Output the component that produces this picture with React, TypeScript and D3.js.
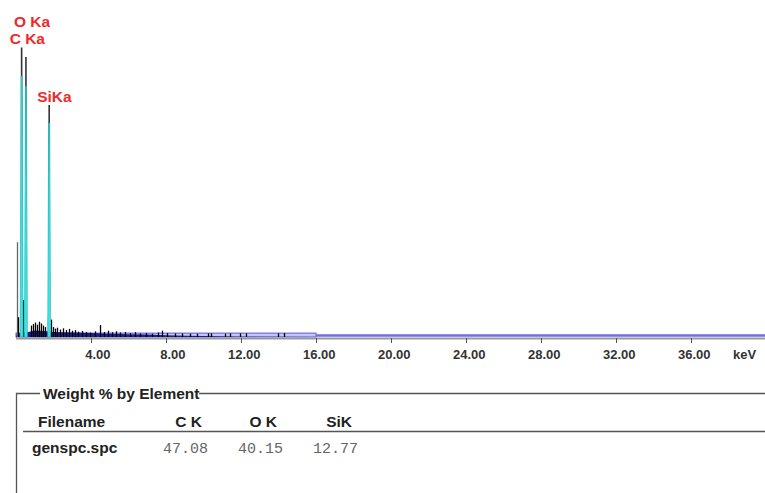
import React from 'react';
import * as d3 from 'd3';

const W = 765;
const H = 493;

// Axis
const tickValues = [4, 8, 12, 16, 20, 24, 28, 32, 36];
const axisUnit = 'keV';
const xMaxKeV = 40;
const bandEndKeV = 16;
const bandCounts = 13;

// Peaks (keV, total counts, ROI counts)
const peakLabels = ['C Ka', 'O Ka', 'SiKa'];
const peakEnergies = [0.3, 0.53, 1.77];
const peakCounts = [965, 933, 773];
const peakRoiCounts = [870, 836, 713];

// Minor spikes of the spectrum (keV, counts)
const spikeEnergies = [
  0.03, 0.11, 0.39, 0.8, 0.91, 1.01, 1.12, 1.23, 1.33, 1.44, 1.55, 1.68, 1.87,
  1.97, 2.08, 2.19, 2.35, 2.51, 2.67, 2.83, 2.99, 3.15, 3.31, 3.52, 3.73, 3.95,
  4.21, 4.48, 4.69, 4.91, 5.12, 5.33, 5.55, 5.81, 6.08, 6.35, 6.61, 6.93, 7.25,
  7.57, 7.79, 8.05, 8.48, 8.85, 9.28, 9.65, 10.24, 10.4, 11.15, 11.41, 11.95,
  12.27, 13.97, 14.29,
];
const spikeCounts = [
  316, 66, 123, 38, 43, 48, 41, 51, 45, 38, 33, 63, 58,
  33, 28, 31, 25, 29, 23, 27, 21, 23, 18, 20, 17, 15,
  19, 40, 17, 21, 16, 19, 15, 17, 13, 16, 12, 13, 11,
  15, 21, 13, 12, 12, 11, 11, 12, 12, 11, 12, 12,
  12, 12, 13,
];

// Continuum (keV, counts)
const contEnergies = [0, 0.05, 0.6, 1.0, 1.5, 2, 3, 4, 5, 6, 7, 8, 9, 10, 12, 16];
const contCounts = [0, 12, 16, 22, 20, 17, 15, 13, 11, 9, 8, 6, 4, 3, 1, 0];

// Table
const tableTitle = 'Weight % by Element';
const fileHeader = 'Filename';
const elements = ['C K', 'O K', 'SiK'];
const weightPct = ['47.08', '40.15', '12.77'];
const fileName = 'genspc.spc';

const SANS = "'Liberation Sans', Arial, sans-serif";
const MONO = "'Liberation Mono', 'Courier New', monospace";

export default function App() {
  const x = d3.scaleLinear().domain([0, xMaxKeV]).range([16, 766]);
  const y = d3.scaleLinear().domain([0, 1000]).range([337, 37]);
  const base = y(0);
  const px = (e: number) => Math.round(x(e)) + 0.5;

  const contArea = d3
    .area<[number, number]>()
    .x((d) => x(d[0]))
    .y0(base)
    .y1((d) => y(d[1]));
  const contData: [number, number][] = contEnergies.map((e, i) => [e, contCounts[i]]);

  const peakHalf = 0.08;
  const peakArea = d3
    .area<[number, number]>()
    .x((d) => x(d[0]))
    .y0(base)
    .y1((d) => y(d[1]));

  // label placement
  const labelPos: { x: number; y: number }[] = [];
  peakLabels.forEach((lab, i) => {
    const lx = x(peakEnergies[i]) - 12;
    let ly = y(peakCounts[i]) - 3.5;
    for (let j = 0; j < i; j++) {
      if (Math.abs(labelPos[j].x - lx) < 36 && Math.abs(labelPos[j].y - ly) < 17) {
        ly = Math.min(ly, labelPos[j].y - 17);
      }
    }
    labelPos.push({ x: lx, y: ly });
  });

  const colRight = elements.map((_, i) => 202 + i * 75);

  return (
    <svg
      width={W}
      height={H}
      style={{ position: 'absolute', left: 0, top: 0, background: '#fff' }}
    >
      {/* band 0-16 keV */}
      <rect
        x={x(0)}
        y={y(bandCounts)}
        width={x(bandEndKeV) - x(0)}
        height={base - y(bandCounts)}
        fill="#c6c6f4"
        stroke="#5a5ae0"
        strokeWidth={1}
      />
      <line
        x1={x(bandEndKeV)}
        x2={x(xMaxKeV)}
        y1={y(5)}
        y2={y(5)}
        stroke="#6e6ee6"
        strokeWidth={2.5}
      />
      {/* continuum */}
      <path d={contArea(contData) || ''} fill="#1e1e8a" />
      {/* spikes */}
      {spikeEnergies.map((e, i) => (
        <line
          key={'s' + i}
          x1={px(e)}
          x2={px(e)}
          y1={base}
          y2={y(spikeCounts[i])}
          stroke={i === 0 ? '#666' : '#000'}
          strokeWidth={i === 0 ? 1.3 : 1.3}
        />
      ))}
      {/* peaks */}
      {peakEnergies.map((e, i) => (
        <g key={'p' + i}>
          <line
            x1={x(e)}
            x2={x(e)}
            y1={base}
            y2={y(peakCounts[i])}
            stroke="#333"
            strokeWidth={1.6}
          />
          <path
            d={
              peakArea([
                [e - peakHalf, 0],
                [e - 0.03, peakRoiCounts[i]],
                [e + 0.03, peakRoiCounts[i]],
                [e + peakHalf, 0],
              ]) || ''
            }
            fill="#3de2e2"
            stroke="#22b5b5"
            strokeWidth={0.6}
          />
        </g>
      ))}
      {/* peak labels */}
      {peakLabels.map((lab, i) => (
        <text
          key={'l' + i}
          x={labelPos[i].x}
          y={labelPos[i].y}
          fontFamily={SANS}
          fontWeight="bold"
          fontSize={15.5}
          fill="#ee2a2a"
        >
          {lab}
        </text>
      ))}
      {/* axis */}
      <line x1={x(0)} x2={W} y1={base + 1.5} y2={base + 1.5} stroke="#9a9a9a" strokeWidth={2} />
      {tickValues.map((t) => (
        <g key={'t' + t}>
          <line x1={px(t)} x2={px(t)} y1={base + 1} y2={base + 6} stroke="#555" strokeWidth={1} />
          <text
            x={x(t) + 19.5}
            y={359}
            textAnchor="end"
            fontFamily={SANS}
            fontWeight="bold"
            fontSize={13}
            fill="#333"
          >
            {t.toFixed(2)}
          </text>
        </g>
      ))}
      <text x={733} y={359} fontFamily={SANS} fontWeight="bold" fontSize={13} fill="#333">
        {axisUnit}
      </text>

      {/* table frame */}
      <path d="M16.5,493 V393.5 H40" fill="none" stroke="#555" strokeWidth={1.3} />
      <line x1={199} x2={W} y1={393.5} y2={393.5} stroke="#555" strokeWidth={1.3} />
      <text x={43} y={399} fontFamily={SANS} fontWeight="bold" fontSize={15.5} fill="#222">
        {tableTitle}
      </text>
      <text x={38} y={427} fontFamily={SANS} fontWeight="bold" fontSize={15.5} fill="#222">
        {fileHeader}
      </text>
      {elements.map((el, i) => (
        <text
          key={'h' + i}
          x={colRight[i]}
          y={427}
          textAnchor="end"
          fontFamily={SANS}
          fontWeight="bold"
          fontSize={15.5}
          fill="#222"
        >
          {el}
        </text>
      ))}
      <line x1={23} x2={W} y1={431.5} y2={431.5} stroke="#555" strokeWidth={1.3} />
      <text x={32} y={453} fontFamily={SANS} fontWeight="bold" fontSize={15.5} fill="#222">
        {fileName}
      </text>
      {weightPct.map((v, i) => (
        <text
          key={'v' + i}
          x={colRight[i] + 6}
          y={453}
          textAnchor="end"
          fontFamily={MONO}
          fontSize={15}
          fill="#666"
        >
          {v}
        </text>
      ))}
    </svg>
  );
}
